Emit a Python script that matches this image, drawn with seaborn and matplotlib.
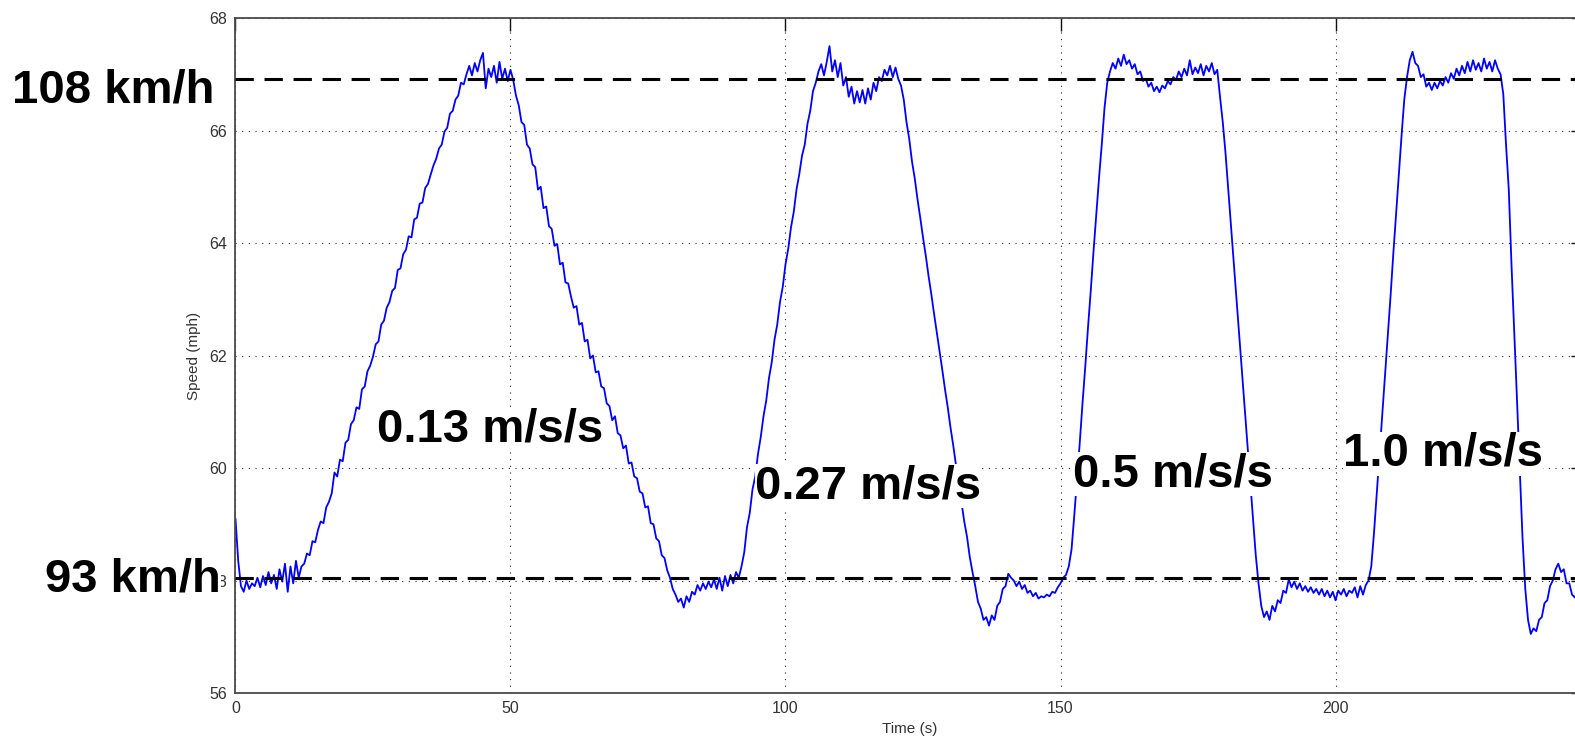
import numpy as np
import pandas as pd
import matplotlib
matplotlib.use("Agg")
import matplotlib.pyplot as plt
import seaborn as sns

# ---------------- data ----------------
sample_period = 0.5  # seconds between listed samples
speed_mph = [
    # t = 0 .. 12
    59.10, 58.35, 57.90, 57.80, 58.00, 57.85, 57.95, 57.90, 58.05, 57.88, 58.08, 57.92, 58.15,
    57.95, 58.10, 57.85, 58.20, 57.98, 58.30, 57.80, 58.25, 57.95, 58.35, 58.05, 58.25,
    # t = 12.5 .. 42  (0.13 m/s/s ramp up)
    58.30, 58.48, 58.45, 58.70, 58.68, 58.90, 59.05, 59.02, 59.30, 59.40, 59.55, 59.92,
    59.85, 60.15, 60.12, 60.45, 60.50, 60.78, 60.85, 61.08, 61.05, 61.40, 61.45, 61.72,
    61.82, 61.98, 62.20, 62.25, 62.55, 62.62, 62.85, 62.95, 63.15, 63.20, 63.52, 63.55,
    63.80, 63.88, 64.12, 64.10, 64.42, 64.45, 64.70, 64.72, 64.98, 65.05, 65.22, 65.38,
    65.50, 65.68, 65.75, 65.98, 66.05, 66.30, 66.35, 66.55, 66.62, 66.85, 66.82, 67.00,
    # t = 42.5 .. 50.5
    67.15, 66.98, 67.20, 67.05, 67.25, 67.38, 66.75, 67.10, 66.95, 67.15, 66.85, 67.22,
    66.92, 67.10, 66.88, 67.08, 66.90,
    # t = 51 .. 79  (ramp down)
    66.62, 66.45, 66.15, 66.10, 65.75, 65.68, 65.40, 65.35, 64.95, 65.00, 64.62, 64.65,
    64.30, 64.25, 63.95, 63.98, 63.62, 63.65, 63.30, 63.28, 63.05, 62.85, 62.88, 62.55,
    62.58, 62.25, 62.28, 61.95, 62.00, 61.70, 61.72, 61.45, 61.42, 61.15, 61.10, 60.85,
    60.92, 60.62, 60.58, 60.35, 60.40, 60.08, 60.10, 59.85, 59.82, 59.58, 59.55, 59.30,
    59.32, 59.02, 59.00, 58.75, 58.70, 58.45, 58.40, 58.18, 58.05,
    # t = 79.5 .. 91.5
    57.85, 57.75, 57.62, 57.68, 57.52, 57.72, 57.62, 57.80, 57.75, 57.92, 57.82, 57.95,
    57.85, 57.98, 57.88, 58.02, 57.85, 58.05, 57.82, 58.08, 57.90, 58.10, 57.95, 58.15, 58.05,
    # t = 92 .. 105.5  (0.27 m/s/s ramp up)
    58.25, 58.50, 58.95, 59.20, 59.62, 59.85, 60.25, 60.55, 60.92, 61.20, 61.60, 61.88,
    62.28, 62.55, 62.95, 63.22, 63.62, 63.90, 64.28, 64.55, 64.95, 65.22, 65.55, 65.75,
    66.12, 66.35, 66.70, 66.85,
    # t = 106 .. 121
    67.05, 67.18, 66.98, 67.22, 67.50, 67.05, 67.25, 66.95, 67.20, 66.80, 66.95, 66.60,
    66.78, 66.48, 66.70, 66.50, 66.72, 66.48, 66.75, 66.55, 66.85, 66.70, 66.95, 66.88,
    67.08, 66.98, 67.15, 66.95, 67.12, 66.92, 66.80,
    # t = 121.5 .. 134  (ramp down)
    66.55, 66.15, 65.85, 65.45, 65.15, 64.78, 64.45, 64.10, 63.78, 63.42, 63.10, 62.75,
    62.42, 62.08, 61.75, 61.40, 61.08, 60.72, 60.40, 60.05, 59.72, 59.40, 59.05, 58.78,
    58.42, 58.15,
    # t = 134.5 .. 151.5
    57.90, 57.62, 57.50, 57.30, 57.35, 57.20, 57.38, 57.30, 57.55, 57.62, 57.85, 57.90,
    58.12, 58.05, 58.00, 57.90, 57.98, 57.85, 57.92, 57.78, 57.82, 57.72, 57.78, 57.68,
    57.72, 57.70, 57.75, 57.72, 57.80, 57.78, 57.88, 57.95, 58.05, 58.10, 58.25,
    # t = 152 .. 158.5  (0.5 m/s/s ramp up)
    58.55, 59.15, 59.80, 60.45, 61.15, 61.80, 62.50, 63.15, 63.85, 64.50, 65.15, 65.75,
    66.40, 66.85,
    # t = 159 .. 178.5
    67.05, 67.20, 67.10, 67.28, 67.15, 67.35, 67.18, 67.25, 67.10, 67.18, 67.00, 67.05,
    66.88, 66.92, 66.78, 66.85, 66.70, 66.78, 66.68, 66.80, 66.75, 66.88, 66.82, 66.95,
    66.90, 67.05, 66.95, 67.10, 66.98, 67.25, 67.00, 67.12, 67.02, 67.18, 66.98, 67.15,
    67.05, 67.20, 67.00, 67.08,
    # t = 179 .. 186  (ramp down)
    66.60, 66.15, 65.60, 64.95, 64.30, 63.65, 63.00, 62.35, 61.70, 61.05, 60.40, 59.75,
    59.10, 58.45, 57.95,
    # t = 186.5 .. 206
    57.55, 57.35, 57.45, 57.30, 57.55, 57.45, 57.65, 57.60, 57.82, 57.78, 58.02, 57.88,
    57.98, 57.85, 57.95, 57.82, 57.90, 57.80, 57.88, 57.78, 57.85, 57.75, 57.85, 57.72,
    57.82, 57.70, 57.80, 57.65, 57.82, 57.75, 57.85, 57.72, 57.82, 57.78, 57.88, 57.70,
    57.90, 57.75, 57.92, 58.00,
    # t = 206.5 .. 213  (1.0 m/s/s ramp up)
    58.25, 58.85, 59.55, 60.25, 60.95, 61.65, 62.35, 63.05, 63.80, 64.50, 65.20, 65.90,
    66.55, 66.95,
    # t = 213.5 .. 230.5
    67.25, 67.40, 67.20, 67.15, 66.95, 67.00, 66.78, 66.85, 66.72, 66.85, 66.75, 66.88,
    66.80, 66.95, 66.85, 67.02, 66.92, 67.10, 66.98, 67.15, 67.02, 67.22, 67.05, 67.25,
    67.08, 67.20, 67.05, 67.28, 67.10, 67.22, 67.05, 67.25, 67.10, 67.00, 66.65,
    # t = 231 .. 234.5  (ramp down)
    65.75, 64.95, 63.60, 62.40, 61.20, 59.95, 58.75, 57.85,
    # t = 235 .. 245
    57.30, 57.05, 57.15, 57.10, 57.30, 57.35, 57.60, 57.65, 57.90, 58.00, 58.20, 58.30,
    58.15, 58.20, 57.95, 57.95, 57.75, 57.70, 57.80, 57.70, 57.75,
]

ref_labels = ["108 km/h", "93 km/h"]
ref_speeds = [66.92, 58.05]

rate_labels = ["0.13 m/s/s", "0.27 m/s/s", "0.5 m/s/s", "1.0 m/s/s"]
rate_x = [25.8, 94.4, 152.2, 201.4]
rate_y = [60.69, 59.68, 59.89, 60.25]

x_ticks = [0, 50, 100, 150, 200]
y_ticks = [56, 58, 60, 62, 64, 66, 68]

# ---------------- figure ----------------
sns.set_style("white")
plt.rcParams["font.family"] = ["Liberation Sans", "DejaVu Sans"]

time_s = np.arange(len(speed_mph)) * sample_period
df = pd.DataFrame({"Time (s)": time_s, "Speed (mph)": speed_mph})

fig = plt.figure(figsize=(15.75, 7.39), dpi=100)
ax = fig.add_axes([0.1495, 0.0622, 0.8556, 0.9134])

sns.lineplot(data=df, x="Time (s)", y="Speed (mph)", ax=ax, color="#0000ff",
             lw=1.3, estimator=None, sort=False, zorder=2)

for yv in ref_speeds:
    ax.axhline(yv, color="black", lw=2.2, ls=(0, (6, 3.5)), zorder=3)

ax.set_xlim(0, 245)
ax.set_ylim(56, 68)
ax.set_xticks(x_ticks)
ax.set_yticks(y_ticks)
ax.grid(True, color="#222222", lw=0.8, ls=(0, (1, 5)))

for s in ax.spines.values():
    s.set_color("#4a4a4a")
    s.set_linewidth(1.3)

ax.tick_params(direction="in", length=9, width=1, top=True, right=True,
               labelsize=11.5, labelcolor="#333333", color="#111111", pad=6)
ax.set_xlabel("Time (s)", fontsize=11, color="#333333", labelpad=4)
ax.set_ylabel("Speed (mph)", fontsize=11, color="#333333", labelpad=6)

box = dict(facecolor="white", edgecolor="none", pad=0)
ax.text(-3.75, 66.71, ref_labels[0], ha="right", va="center", fontsize=34,
        fontweight="bold", color="black", bbox=box, zorder=10, clip_on=False)
ax.text(-2.65, 58.01, ref_labels[1], ha="right", va="center", fontsize=34,
        fontweight="bold", color="black", bbox=box, zorder=10, clip_on=False)

for lab, xv, yv in zip(rate_labels, rate_x, rate_y):
    ax.text(xv, yv, lab, ha="left", va="center", fontsize=34, fontweight="bold",
            color="black", bbox=box, zorder=10)

fig.savefig("out.png", dpi=100)
